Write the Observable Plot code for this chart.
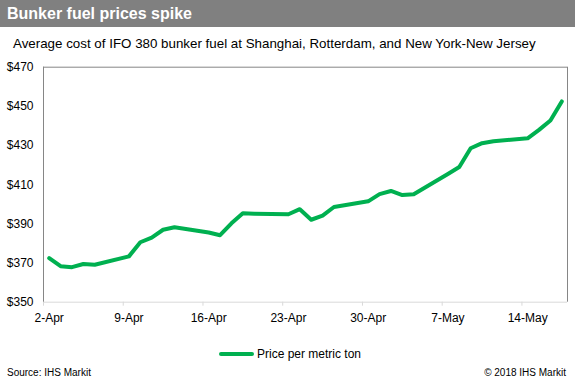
<!DOCTYPE html>
<html>
<head>
<meta charset="utf-8">
<script src="https://cdn.jsdelivr.net/npm/d3@7"></script>
<script src="https://cdn.jsdelivr.net/npm/@observablehq/plot@0.6"></script>
<style>
  html, body { margin: 0; padding: 0; background: #fff; }
  #wrap { position: relative; width: 575px; height: 386px; overflow: hidden; font-family: "Liberation Sans", Arial, sans-serif; color: #000; }
  #title { position: absolute; left: 0; top: 0; width: 575px; height: 27px; background: #808080; color: #fff; font-weight: bold; font-size: 16px; line-height: 27px; padding-left: 7px; box-sizing: border-box; }
  #subtitle { position: absolute; left: 13px; top: 35.5px; font-size: 13.35px; line-height: 16px; white-space: nowrap; }
  #chart { position: absolute; left: 0; top: 50px; }
  #legline { position: absolute; left: 219px; top: 351.5px; width: 35px; height: 4px; background: #00b050; border-radius: 2px; }
  #legtext { position: absolute; left: 257px; top: 347px; font-size: 12px; line-height: 14px; white-space: nowrap; }
  #source { position: absolute; left: 7px; top: 367px; font-size: 10px; line-height: 12px; white-space: nowrap; }
  #copy { position: absolute; right: 9px; top: 367px; font-size: 10px; line-height: 12px; white-space: nowrap; }
</style>
</head>
<body>
<div id="wrap">
  <div id="title">Bunker fuel prices spike</div>
  <div id="subtitle">Average cost of IFO 380 bunker fuel at Shanghai, Rotterdam, and New York-New Jersey</div>
  <div id="chart"></div>
  <div id="legline"></div>
  <div id="legtext">Price per metric ton</div>
  <div id="source">Source: IHS Markit</div>
  <div id="copy">© 2018 IHS Markit</div>
</div>
<script>
// Trading days (weekdays) and average IFO 380 price per metric ton
const dates = [
  "2018-04-02","2018-04-03","2018-04-04","2018-04-05","2018-04-06",
  "2018-04-09","2018-04-10","2018-04-11","2018-04-12","2018-04-13",
  "2018-04-16","2018-04-17","2018-04-18","2018-04-19","2018-04-20",
  "2018-04-23","2018-04-24","2018-04-25","2018-04-26","2018-04-27",
  "2018-04-30","2018-05-01","2018-05-02","2018-05-03","2018-05-04",
  "2018-05-07","2018-05-08","2018-05-09","2018-05-10","2018-05-11",
  "2018-05-14","2018-05-15","2018-05-16","2018-05-17"
];
const prices = [
  372.5, 368.4, 367.9, 369.5, 369.1,
  373.4, 380.6, 383.0, 387.0, 388.3,
  385.6, 384.2, 390.3, 395.4, 395.2,
  394.9, 397.5, 392.1, 394.2, 398.6,
  401.5, 405.2, 406.8, 404.7, 405.1,
  415.5, 419.0, 428.6, 431.2, 432.2,
  433.7, 438.0, 442.8, 452.5
];
const xTickDates = ["2018-04-02","2018-04-09","2018-04-16","2018-04-23","2018-04-30","2018-05-07","2018-05-14"];
const yTicks = [350, 370, 390, 410, 430, 450, 470];
const xStart = "2018-04-02";
const xEnd = "2018-05-18";
const seriesName = "Price per metric ton";

const HALF_DAY = 12 * 3600 * 1000;
const parse = s => new Date(s + "T00:00:00Z");
const data = dates.map((d, i) => ({date: new Date(+parse(d) + HALF_DAY), price: prices[i], series: seriesName}));
const d0 = parse(xStart), d1 = parse(xEnd);
const tickMid = xTickDates.map(parse);
const tickNoon = xTickDates.map(d => new Date(+parse(d) + HALF_DAY));
const fmt = d3.utcFormat("%-d-%b");

const chart = Plot.plot({
  width: 575,
  height: 286,
  marginLeft: 43,
  marginRight: 8,
  marginTop: 16.7,
  marginBottom: 34.3,
  style: {fontFamily: "'Liberation Sans', Arial, sans-serif", fontSize: "12px", color: "#000", background: "transparent"},
  x: {type: "utc", domain: [d0, d1]},
  y: {domain: [350, 470]},
  marks: [
    Plot.axisY({ticks: yTicks, tickSize: 0, tickPadding: 10, tickFormat: d => "$" + d, label: null, fontSize: 12}),
    Plot.axisX({ticks: tickMid, tickSize: 4, tickFormat: () => "", label: null, stroke: "#d9d9d9", strokeOpacity: 1}),
    Plot.axisX({ticks: tickNoon, tickSize: 0, tickPadding: 11, tickFormat: fmt, label: null, fontSize: 12}),
    Plot.ruleY([350], {stroke: "#d9d9d9"}),
    Plot.ruleY([470], {stroke: "#868686"}),
    Plot.ruleX([d0, d1], {stroke: "#868686"}),
    Plot.line(data, {x: "date", y: "price", stroke: "#00b050", strokeWidth: 4, strokeLinejoin: "round", strokeLinecap: "round"})
  ]
});
document.getElementById("chart").appendChild(chart);
</script>
</body>
</html>
